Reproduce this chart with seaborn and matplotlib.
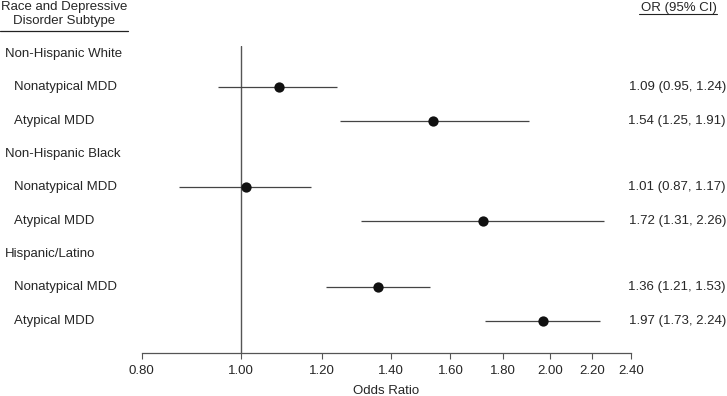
import numpy as np
import pandas as pd
import matplotlib
matplotlib.use("Agg")
import matplotlib.pyplot as plt
import matplotlib.transforms as mtransforms
from matplotlib.lines import Line2D
from matplotlib.ticker import FixedLocator, FixedFormatter, NullLocator
import seaborn as sns

# data
groups = ["Non-Hispanic White", "Non-Hispanic Black", "Hispanic/Latino"]
subtypes = ["Nonatypical MDD", "Atypical MDD"]
or_vals = [1.09, 1.54, 1.01, 1.72, 1.36, 1.97]
ci_low = [0.95, 1.25, 0.87, 1.31, 1.21, 1.73]
ci_high = [1.24, 1.91, 1.17, 2.26, 1.53, 2.24]
xticks = [0.80, 1.00, 1.20, 1.40, 1.60, 1.80, 2.00, 2.20, 2.40]

# one row per group header, then its subtypes
rows = []
k = 0
for g in groups:
    rows.append({"label": g, "kind": "group"})
    for s in subtypes:
        rows.append({"label": s, "kind": "sub", "or": or_vals[k],
                     "lo": ci_low[k], "hi": ci_high[k]})
        k += 1
df = pd.DataFrame(rows)
df["row"] = np.arange(len(df))
est = df[df["kind"] == "sub"]

sns.set_style("white")
plt.rcParams["font.family"] = ["Liberation Sans", "DejaVu Sans"]

W, H = 727, 396
fig = plt.figure(figsize=(W / 100, H / 100), dpi=100)
ax = fig.add_axes([141.7 / W, 1 - 353 / H, (631 - 141.7) / W, (353 - 46) / H])

ax.axvline(1.0, color="#555555", lw=1.0, zorder=1)
ax.hlines(est["row"], est["lo"], est["hi"], color="#444444", lw=0.9, zorder=2)
sns.scatterplot(data=est, x="or", y="row", ax=ax, color="#111111", s=55,
                edgecolor="#111111", linewidth=0, zorder=3, legend=False)

ax.set_xscale("log")
ax.set_xlim(0.80, 2.40)
ax.set_ylim(8.965, -0.24)
ax.xaxis.set_major_locator(FixedLocator(xticks))
ax.xaxis.set_major_formatter(FixedFormatter([f"{t:.2f}" for t in xticks]))
ax.xaxis.set_minor_locator(NullLocator())
ax.set_yticks([])
ax.set_ylabel("")
ax.set_xlabel("Odds Ratio", fontsize=9.5, labelpad=6)
ax.tick_params(axis="x", direction="out", length=4, width=0.8, color="#555555",
               labelsize=9.5, pad=4.5, bottom=True)
for side in ["left", "right", "top"]:
    ax.spines[side].set_visible(False)
ax.spines["bottom"].set_color("#555555")
ax.spines["bottom"].set_linewidth(0.9)

trans = mtransforms.blended_transform_factory(fig.transFigure, ax.transData)
for _, r in df.iterrows():
    x0 = 5 / W if r["kind"] == "group" else 14.5 / W
    ax.text(x0, r["row"], r["label"], transform=trans, ha="left", va="center",
            fontsize=9.5, clip_on=False)
    if r["kind"] == "sub":
        ax.text(726 / W, r["row"], f"{r['or']:.2f} ({r['lo']:.2f}, {r['hi']:.2f})",
                transform=trans, ha="right", va="center", fontsize=9.5, clip_on=False)

fig.text(64 / W, 1 - 1 / H, "Race and Depressive\nDisorder Subtype", ha="center",
         va="top", fontsize=9.5, linespacing=1.25)
fig.add_artist(Line2D([0, 128 / W], [1 - 30.7 / H] * 2, color="#222222", lw=0.9))
fig.text(717 / W, 1 - 7.5 / H, "OR (95% CI)", ha="right", va="center", fontsize=9.5)
fig.add_artist(Line2D([639 / W, 717 / W], [1 - 14 / H] * 2, color="#222222", lw=0.8))

fig.savefig("out.png", dpi=100)
